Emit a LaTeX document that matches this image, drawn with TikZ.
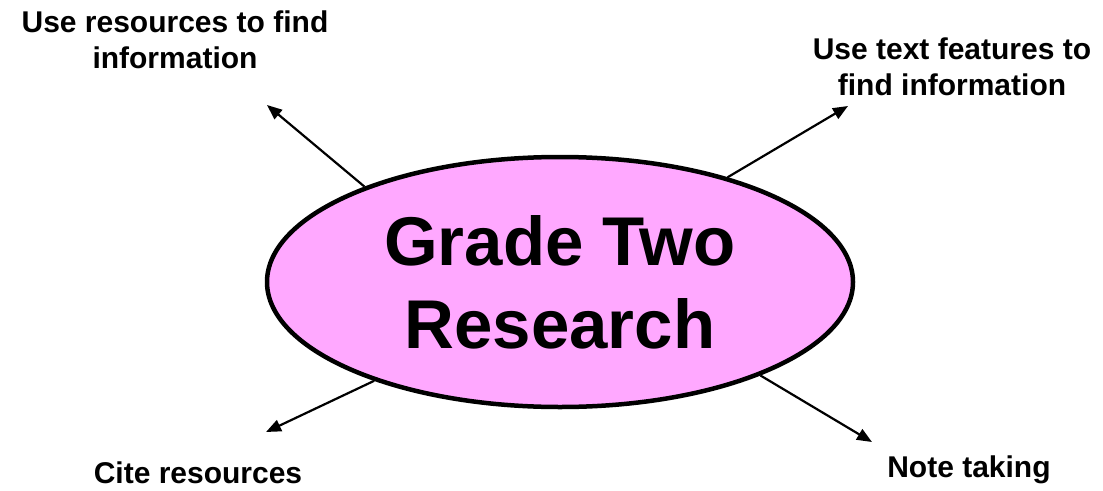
\documentclass[tikz,border=0pt]{standalone}
\usepackage{fontspec}
\setmainfont{Liberation Sans}
\usetikzlibrary{arrows.meta,shapes.geometric}
\definecolor{pinkfill}{RGB}{255,168,255}
\begin{document}
\begin{tikzpicture}[x=1pt,y=-1pt,
  lbl/.style={font=\fontsize{30}{36}\selectfont\bfseries, align=center, inner sep=0pt, anchor=base},
  arr/.style={line width=2.2pt, -{Triangle[length=15pt,width=12pt]}},
  hub/.style={ellipse, draw, line width=4.5pt, fill=pinkfill, minimum width=586pt, minimum height=250pt,
    font=\fontsize{69}{83}\selectfont\bfseries, align=center, inner sep=0pt}]
\useasboundingbox (0,0) rectangle (1103,490);
\node[hub] (g) at (560,282) {Grade Two\\Research};
\coordinate (t1) at (267,105);
\coordinate (t2) at (848,106);
\coordinate (t3) at (266,432);
\coordinate (t4) at (872,442);
\draw[arr] (g.154) -- (t1);
\draw[arr] (g.32) -- (t2);
\draw[arr] (g.208) -- (t3);
\draw[arr] (g.335) -- (t4);
\node[lbl] (l1) at (175,68) {Use resources to find\\information};
\node[lbl] (l2) at (952,95) {Use text features to\\find information};
\node[lbl] (l3) at (198,483) {Cite resources};
\node[lbl] (l4) at (969,477) {Note taking};
\end{tikzpicture}
\end{document}
